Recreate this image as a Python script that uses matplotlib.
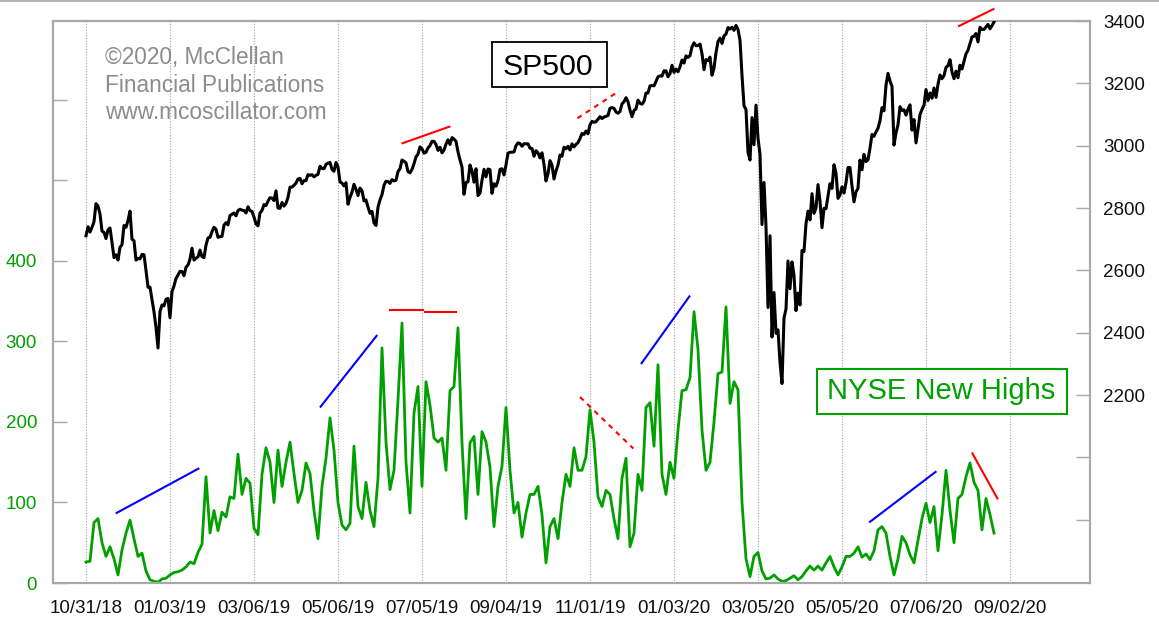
import matplotlib
matplotlib.use('Agg')
import matplotlib.pyplot as plt
import numpy as np
from matplotlib.patches import Rectangle
from matplotlib.lines import Line2D

plt.rcParams['font.family'] = ['Liberation Sans', 'DejaVu Sans']

GREEN = '#00a000'
FRAME = '#a8a8a8'

# x axis: one slot per trading day, 10/31/18 = day 0, a label every 42 days
date_labels = ['10/31/18', '01/03/19', '03/06/19', '05/06/19', '07/05/19', '09/04/19',
               '11/01/19', '01/03/20', '03/05/20', '05/05/20', '07/06/20', '09/02/20']
date_pos = np.arange(0, 42 * len(date_labels), 42)

# SP500 daily closes, 10/31/18 .. 08/21/20
sp500 = [2711,
         # Nov 18
         2740, 2723, 2738, 2756, 2814, 2806, 2781, 2726, 2722, 2702, 2730, 2736, 2690, 2641, 2650,
         2633, 2674, 2682, 2744, 2738, 2760,
         # Dec 18
         2790, 2700, 2695, 2633, 2638, 2637, 2651, 2650, 2600, 2546, 2546, 2507, 2467, 2417, 2351,
         2468, 2489, 2486, 2507,
         # Jan 19
         2510, 2448, 2532, 2550, 2574, 2585, 2597, 2596, 2583, 2610, 2617, 2636, 2671, 2633, 2639,
         2643, 2665, 2644, 2641, 2681, 2704,
         # Feb 19
         2706, 2724, 2738, 2732, 2706, 2708, 2709, 2745, 2753, 2746, 2776, 2780, 2784, 2775, 2792,
         2796, 2793, 2792, 2784,
         # Mar 19
         2804, 2792, 2789, 2771, 2749, 2743, 2784, 2792, 2811, 2808, 2822, 2833, 2832, 2824, 2855,
         2800, 2799, 2818, 2806, 2815, 2834,
         # Apr 19
         2867, 2867, 2873, 2880, 2893, 2895, 2878, 2888, 2888, 2907, 2905, 2907, 2900, 2905, 2908,
         2934, 2927, 2926, 2940, 2944, 2946,
         # May 19
         2924, 2918, 2946, 2932, 2884, 2880, 2871, 2881, 2812, 2834, 2851, 2876, 2860, 2840, 2864,
         2856, 2823, 2826, 2803, 2783, 2789, 2752,
         # Jun 19
         2744, 2803, 2826, 2843, 2873, 2886, 2885, 2879, 2891, 2887, 2889, 2917, 2926, 2954, 2950,
         2945, 2917, 2913, 2924, 2942,
         # Jul 19
         2964, 2973, 2996, 2990, 2976, 2979, 2993, 3000, 3014, 3014, 3004, 2985, 2995, 2977, 2986,
         3005, 3019, 3004, 3026, 3021, 3014, 2980,
         # Aug 19
         2954, 2932, 2844, 2882, 2884, 2938, 2919, 2883, 2926, 2840, 2848, 2889, 2924, 2900, 2925,
         2923, 2847, 2878, 2870, 2888, 2924, 2926,
         # Sep 19
         2906, 2938, 2976, 2979, 2979, 2980, 3000, 3009, 3007, 2998, 3006, 3006, 3006, 2992, 2991,
         2966, 2984, 2977, 2961, 2977,
         # Oct 19
         2940, 2887, 2910, 2952, 2938, 2893, 2919, 2938, 2970, 2966, 2995, 2990, 2998, 2986, 3006,
         2996, 3004, 3010, 3023, 3039, 3036, 3047, 3038,
         # Nov 19
         3067, 3078, 3075, 3077, 3085, 3093, 3087, 3092, 3094, 3097, 3120, 3122, 3120, 3108, 3104,
         3110, 3134, 3141, 3154, 3141,
         # Dec 19
         3114, 3093, 3113, 3118, 3146, 3136, 3133, 3142, 3169, 3169, 3192, 3193, 3192, 3206, 3221,
         3224, 3223, 3240, 3240, 3221, 3231,
         # Jan 20
         3258, 3235, 3246, 3237, 3253, 3275, 3265, 3288, 3283, 3289, 3317, 3330, 3321, 3321, 3326,
         3295, 3244, 3276, 3273, 3284, 3226,
         # Feb 20
         3249, 3298, 3334, 3345, 3328, 3352, 3358, 3379, 3374, 3380, 3370, 3386, 3373, 3338, 3226,
         3128, 3116, 2979, 2954,
         # Mar 20
         3090, 3003, 3130, 3024, 2972, 2747, 2882, 2741, 2481, 2711, 2386, 2529, 2398, 2409, 2305,
         2237, 2447, 2476, 2630, 2541, 2627, 2585,
         # Apr 20
         2471, 2527, 2489, 2664, 2660, 2750, 2790, 2762, 2846, 2783, 2800, 2875, 2823, 2737, 2799,
         2798, 2837, 2878, 2863, 2939, 2912,
         # May 20
         2831, 2842, 2868, 2848, 2881, 2930, 2930, 2870, 2820, 2852, 2863, 2954, 2923, 2972, 2949,
         2955, 2992, 3036, 3030, 3044,
         # Jun 20
         3056, 3080, 3122, 3112, 3194, 3232, 3207, 3190, 3002, 3041, 3067, 3125, 3113, 3115, 3098,
         3118, 3131, 3050, 3084, 3009, 3053, 3100,
         # Jul 20
         3116, 3130, 3180, 3145, 3169, 3152, 3185, 3155, 3197, 3227, 3215, 3225, 3251, 3257, 3276,
         3236, 3215, 3239, 3218, 3258, 3246, 3271,
         # Aug 20
         3295, 3306, 3327, 3349, 3351, 3360, 3333, 3380, 3373, 3373, 3381, 3389, 3375, 3385, 3397]

new_highs = [26, 27, 75, 80, 50, 33, 45, 30, 10, 41,
             62, 78, 55, 33, 37, 15, 4, 2, 1, 5,
             6, 10, 13, 14, 16, 20, 26, 24, 38, 48,
             132, 62, 90, 65, 88, 82, 107, 105, 160, 110,
             130, 124, 68, 60, 135, 168, 150, 100, 165, 120,
             150, 175, 136, 100, 115, 149, 136, 90, 55, 120,
             155, 205, 165, 100, 72, 66, 74, 170, 95, 80,
             125, 90, 70, 130, 292, 175, 116, 140, 227, 323,
             150, 87, 211, 244, 120, 250, 221, 180, 175, 180,
             140, 239, 244, 317, 174, 80, 174, 182, 110, 188,
             175, 144, 70, 120, 145, 218, 140, 87, 100, 57,
             87, 110, 110, 120, 85, 25, 70, 80, 55, 100,
             135, 120, 168, 140, 140, 157, 215, 175, 107, 95,
             115, 110, 80, 55, 130, 155, 45, 62, 135, 115,
             218, 224, 170, 271, 135, 110, 150, 130, 190, 239,
             240, 255, 337, 290, 190, 140, 150, 200, 260, 262,
             343, 223, 250, 240, 100, 30, 8, 33, 38, 15,
             5, 6, 10, 5, 2, 3, 6, 9, 4, 8,
             15, 21, 16, 21, 16, 25, 33, 20, 10, 20,
             33, 33, 37, 45, 32, 36, 29, 40, 66, 70,
             62, 33, 10, 30, 58, 50, 35, 25, 53, 80,
             99, 75, 95, 40, 85, 140, 90, 50, 105, 110,
             132, 149, 125, 115, 66, 105, 85, 62]

# trend lines drawn on the chart: (day0, day1, value0, value1)
nh_blue = [(15.3, 56.2, 87, 142), (117.3, 145.3, 219, 307),
           (277.8, 301.7, 273, 356), (392, 424.8, 76, 138)]
nh_red = [(152, 168.7, 339, 339), (169.5, 185, 337, 337), (443.2, 455.7, 161, 105)]
nh_red_dash = [(247, 273.7, 231, 167)]
sp_red = [(158.3, 181.7, 3008, 3061), (436.5, 453.7, 3384, 3438)]
sp_red_dash = [(245.7, 266.7, 3088, 3176)]

W, H = 1159, 622
fig = plt.figure(figsize=(W / 100, H / 100), dpi=100)
ax = fig.add_axes([53 / W, 1 - 583 / H, (1090 - 53) / W, (583 - 21) / H])
ax2 = ax.twinx()

x_sp = np.arange(len(sp500))
x_nh = np.arange(0, 2 * len(new_highs), 2)

ax.plot(x_nh, new_highs, color=GREEN, lw=2.0, zorder=3)
ax2.plot(x_sp, sp500, color='black', lw=2.2, zorder=3)

for d0, d1, v0, v1 in nh_blue:
    ax.plot([d0, d1], [v0, v1], color='#0000ff', lw=1.5, zorder=4)
for d0, d1, v0, v1 in nh_red:
    ax.plot([d0, d1], [v0, v1], color='#ff0000', lw=1.5, zorder=4)
for d0, d1, v0, v1 in nh_red_dash:
    ax.plot([d0, d1], [v0, v1], color='#ff0000', lw=1.5, dashes=(2.4, 2.4), zorder=4)
for d0, d1, v0, v1 in sp_red:
    ax2.plot([d0, d1], [v0, v1], color='#ff0000', lw=1.5, zorder=4, clip_on=False)
for d0, d1, v0, v1 in sp_red_dash:
    ax2.plot([d0, d1], [v0, v1], color='#ff0000', lw=1.5, dashes=(2.4, 2.4), zorder=4)

ax.set_xlim(-16.5, 502)
ax.set_ylim(0, 698)
ax2.set_ylim(1597, 3400)

ax.set_xticks(date_pos, date_labels)
ax.tick_params(axis='x', length=0, labelsize=13.5, pad=12, labelcolor='#111111')
ax.grid(axis='x', color='#a0a0a0', linestyle=(0, (1, 1.5)), lw=0.8)

nh_ticks = np.arange(0, 700, 100)
ax.set_yticks(nh_ticks, [str(t) if t <= 400 else '' for t in nh_ticks])
ax.tick_params(axis='y', direction='in', length=10, width=1, color=FRAME,
               labelcolor=GREEN, labelsize=13.5, pad=11.5)

sp_ticks = np.arange(1800, 3401, 200)
ax2.set_yticks(sp_ticks, [str(t) if t >= 2200 else '' for t in sp_ticks])
ax2.tick_params(axis='y', direction='in', length=10, width=1, color=FRAME,
                labelcolor='#111111', labelsize=13.5, pad=9.5)

for a in (ax, ax2):
    for s in a.spines.values():
        s.set_color(FRAME)
        s.set_linewidth(1.5)

# watermark
fig.text(105 / W, 1 - 46 / H, '©2020, McClellan\nFinancial Publications\nwww.mcoscillator.com',
         color='#8c8c8c', fontsize=16.3, va='top', ha='left', linespacing=1.25)

# series labels in boxes
fig.patches.append(Rectangle((492 / W, 1 - 87.3 / H), 115 / W, 45.6 / H, transform=fig.transFigure,
                             fc='white', ec='black', lw=1.3, zorder=5))
fig.text(548 / W, 1 - 75 / H, 'SP500', fontsize=21.8, color='black',
         ha='center', va='baseline', zorder=6)
fig.patches.append(Rectangle((817.3 / W, 1 - 414.3 / H), 250 / W, 45 / H, transform=fig.transFigure,
                             fc='white', ec=GREEN, lw=1.5, zorder=5))
fig.text(941 / W, 1 - 399.3 / H, 'NYSE New Highs', fontsize=21, color=GREEN,
         ha='center', va='baseline', zorder=6)

fig.add_artist(Line2D([0, 1], [1 - 1 / H, 1 - 1 / H], color='#b4b4b4', lw=1.5))

fig.savefig('out.png', dpi=100)
